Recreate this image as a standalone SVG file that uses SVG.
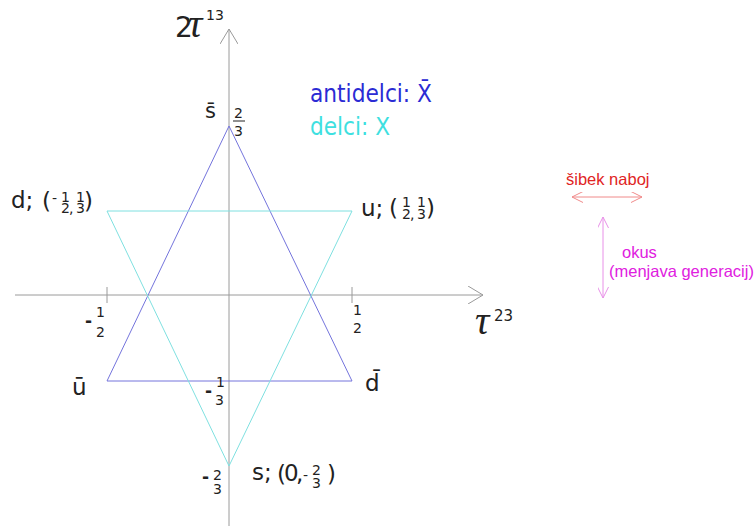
<svg xmlns="http://www.w3.org/2000/svg" width="756" height="526" viewBox="0 0 756 526">
<style>
  text { font-family: "DejaVu Sans", "Liberation Sans", sans-serif; fill: #222; }
  .tau { font-family: "Liberation Serif", serif; font-style: italic; }
  .lbl { font-size: 23px; }
  .fr { font-size: 14px; }
  .mi { font-size: 17px; font-weight: bold; }
  .leg { font-family: "Liberation Sans", Arial, sans-serif; font-size: 16.5px; }
  .axis { stroke: #9a9a9a; stroke-width: 1; fill: none; }
  .anti { stroke: #7474dc; stroke-width: 1; fill: none; }
  .quark { stroke: #7fe0e0; stroke-width: 1; fill: none; }
</style>
<defs>
  <marker id="ax" viewBox="0 0 15 18" refX="15" refY="9" markerWidth="15" markerHeight="18" markerUnits="userSpaceOnUse" orient="auto">
    <path d="M0,0 L15,9 L0,18" fill="none" stroke="#9a9a9a" stroke-width="1"/>
  </marker>
  <marker id="redArr" viewBox="0 0 11 11" refX="11" refY="5.5" markerWidth="11" markerHeight="11" markerUnits="userSpaceOnUse" orient="auto-start-reverse">
    <path d="M0,0 L11,5.5 L0,11" fill="none" stroke="#f08a8a" stroke-width="1"/>
  </marker>
  <marker id="pinkArr" viewBox="0 0 11 11" refX="11" refY="5.5" markerWidth="11" markerHeight="11" markerUnits="userSpaceOnUse" orient="auto-start-reverse">
    <path d="M0,0 L11,5.5 L0,11" fill="none" stroke="#e890e8" stroke-width="1"/>
  </marker>
</defs>
<rect width="756" height="526" fill="#fff"/>

<g id="connectors">
  <line class="axis" x1="15" y1="295" x2="483" y2="295" marker-end="url(#ax)"/>
  <line class="axis" x1="229" y1="526" x2="229" y2="29" marker-end="url(#ax)"/>
  <line class="axis" x1="107" y1="287" x2="107" y2="303"/>
  <line class="axis" x1="352" y1="287" x2="352" y2="303"/>
  <line x1="572" y1="197" x2="642" y2="197" stroke="#f08a8a" stroke-width="1" marker-start="url(#redArr)" marker-end="url(#redArr)"/>
  <line x1="603" y1="217" x2="603" y2="298" stroke="#e890e8" stroke-width="1" marker-start="url(#pinkArr)" marker-end="url(#pinkArr)"/>
</g>

<g id="antiquark-triangle">
  <polygon class="anti" points="229,126 107,381 352,381"/>
</g>
<g id="quark-triangle">
  <polygon class="quark" points="107,211 352,211 229,466"/>
</g>

<g id="axis-y-label">
  <text><tspan x="175" y="37" font-size="28">2</tspan><tspan class="tau" x="188" y="37" font-size="40">τ</tspan><tspan x="206" y="20" font-size="14">13</tspan></text>
</g>
<g id="axis-x-label">
  <text><tspan class="tau" x="475" y="334" font-size="40">τ</tspan><tspan x="494" y="321" font-size="15">23</tspan></text>
</g>

<g id="legend-colors">
  <text x="310" y="102" font-size="24" textLength="122" lengthAdjust="spacingAndGlyphs" style="fill:#2b2bd4">antidelci: X̄</text>
  <text x="310" y="135" font-size="24" textLength="80" lengthAdjust="spacingAndGlyphs" style="fill:#3ee0e0">delci: X</text>
</g>

<g id="node-sbar">
  <text><tspan x="205" y="118" font-size="21">s̄</tspan><tspan class="fr" x="234" y="118">2</tspan><tspan class="fr" x="234" y="136">3</tspan></text>
  <line x1="233" y1="121" x2="245" y2="121" stroke="#222" stroke-width="1"/>
</g>

<g id="node-d">
  <text class="lbl"><tspan x="11" y="208">d;</tspan><tspan x="42" y="209">(</tspan><tspan class="fr" x="52" y="203">-</tspan><tspan class="fr" x="61" y="202">1</tspan><tspan class="fr" x="61" y="213">2</tspan><tspan class="fr" x="69" y="213">,</tspan><tspan class="fr" x="76" y="202">1</tspan><tspan class="fr" x="76" y="213">3</tspan><tspan x="84" y="209">)</tspan></text>
</g>

<g id="node-u">
  <text class="lbl"><tspan x="361" y="216">u;</tspan><tspan x="389" y="216">(</tspan><tspan class="fr" x="402" y="207">1</tspan><tspan class="fr" x="402" y="219">2</tspan><tspan class="fr" x="410" y="219">,</tspan><tspan class="fr" x="417" y="207">1</tspan><tspan class="fr" x="417" y="219">3</tspan><tspan x="426" y="216">)</tspan></text>
</g>

<g id="tick-labels">
  <text><tspan class="mi" x="85" y="327">-</tspan><tspan class="fr" x="96" y="317">1</tspan><tspan class="fr" x="96" y="337">2</tspan></text>
  <text><tspan class="fr" x="353" y="315">1</tspan><tspan class="fr" x="353" y="333">2</tspan></text>
  <text><tspan class="mi" x="205" y="397">-</tspan><tspan class="fr" x="216" y="387">1</tspan><tspan class="fr" x="215" y="405">3</tspan></text>
  <text><tspan class="mi" x="202" y="483">-</tspan><tspan class="fr" x="213" y="480">2</tspan><tspan class="fr" x="213" y="494">3</tspan></text>
</g>

<g id="node-ubar">
  <text class="lbl" x="72" y="395">ū</text>
</g>
<g id="node-dbar">
  <text class="lbl" x="365" y="391">d̄</text>
</g>

<g id="node-s">
  <text class="lbl"><tspan x="252" y="480">s;</tspan><tspan x="277" y="482">(</tspan><tspan x="284" y="481">0</tspan><tspan x="296" y="481">,</tspan><tspan class="fr" x="303" y="480">-</tspan><tspan class="fr" x="312" y="475">2</tspan><tspan class="fr" x="312" y="488">3</tspan><tspan x="327" y="482">)</tspan></text>
</g>

<g id="legend-arrows">
  <text class="leg" x="566" y="185" style="fill:#e02424">šibek naboj</text>
  <text class="leg" x="622" y="258" style="fill:#e020e0">okus</text>
  <text class="leg" x="609" y="277" style="fill:#e020e0">(menjava generacij)</text>
</g>
</svg>
